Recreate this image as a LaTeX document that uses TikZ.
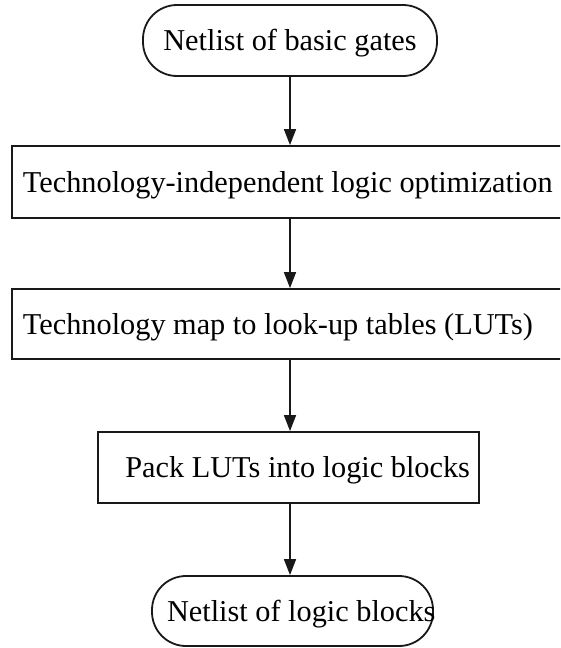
\documentclass[tikz,border=0pt]{standalone}
\usepackage{fontspec}
\setmainfont{Liberation Serif}
\usetikzlibrary{arrows.meta}
\begin{document}
\begin{tikzpicture}[x=1pt,y=-1pt,
  every node/.style={font=\fontsize{30.3pt}{36pt}\selectfont, text height=20pt, text depth=0pt},
  stepbox/.style={draw=black!90, line width=1.8pt, rectangle, inner ysep=0pt},
  termbox/.style={stepbox, rounded corners=34pt},
  flow/.style={draw=black!90, line width=1.6pt, -{Triangle[width=12pt,length=16pt]}}]
  \useasboundingbox (0,0) rectangle (560,648);
  \clip (0,0) rectangle (560,648);
  \fill[white] (0,0) rectangle (560,648);

  % stages of the flow, top to bottom
  \node[termbox, minimum width=294pt, minimum height=71pt] (src) at (290,40.5) {Netlist of basic gates};
  \node[stepbox, minimum height=72pt, inner xsep=11pt] (opt) at (293.5,182)
    {\makebox[541pt][l]{Technology-independent logic optimization}};
  \node[stepbox, minimum height=70pt, inner xsep=11pt] (map) at (293.5,324)
    {\makebox[541pt][l]{Technology map to look-up tables (LUTs)}};
  \node[stepbox, minimum height=71pt, inner xsep=9pt] (pack) at (288.5,467.5)
    {\makebox[363pt][r]{Pack LUTs into logic blocks}};
  \node[termbox, minimum height=70pt, inner xsep=15pt] (dst) at (292.5,611)
    {\makebox[251pt][l]{Netlist of logic blocks}};

  % connectors, all on one vertical line
  \draw[flow] (src.south) -- (src.south |- opt.north);
  \draw[flow] (src.south |- opt.south) -- (src.south |- map.north);
  \draw[flow] (src.south |- map.south) -- (src.south |- pack.north);
  \draw[flow] (src.south |- pack.south) -- (src.south |- dst.north);
\end{tikzpicture}
\end{document}
